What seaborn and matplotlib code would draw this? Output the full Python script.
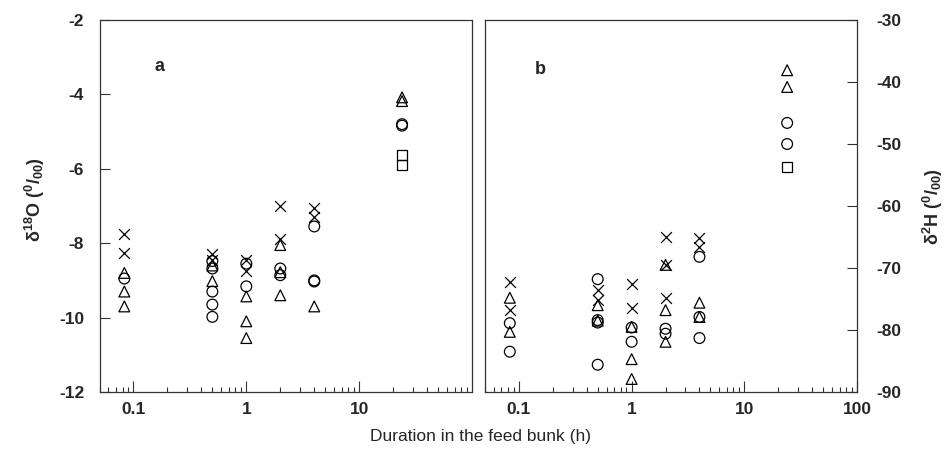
import matplotlib
matplotlib.use("Agg")
import matplotlib.pyplot as plt
import seaborn as sns
import pandas as pd
from matplotlib.ticker import LogLocator, NullFormatter, FixedLocator, FixedFormatter

sns.set_theme(style="white")
plt.rcParams['font.family'] = ['Liberation Sans', 'DejaVu Sans']
plt.rcParams['mathtext.fontset'] = 'custom'
plt.rcParams['mathtext.rm'] = 'Liberation Sans'
plt.rcParams['mathtext.it'] = 'Liberation Sans:italic'
plt.rcParams['mathtext.bf'] = 'Liberation Sans:bold'

# ---- Panel a: delta18O (per mil) ----
a_cross_x = [0.083, 0.083, 0.5, 0.5, 1, 1, 2, 2, 4, 4]
a_cross_y = [-7.76, -8.27, -8.3, -8.45, -8.45, -8.75, -7.0, -7.9, -7.05, -7.3]
a_tri_x = [0.083, 0.083, 0.083, 0.5, 0.5, 1, 1, 1, 2, 2, 2, 4, 24, 24]
a_tri_y = [-8.8, -9.3, -9.7, -8.6, -9.02, -9.43, -10.1, -10.55, -8.05, -8.78, -9.4, -9.7, -4.08, -4.18]
a_circ_x = [0.083, 0.5, 0.5, 0.5, 0.5, 0.5, 1, 1, 2, 2, 4, 4, 4, 24, 24]
a_circ_y = [-8.95, -8.48, -8.68, -9.3, -9.65, -9.98, -8.55, -9.16, -8.68, -8.86, -7.55, -9.0, -9.03, -4.8, -4.84]
a_sq_x = [24, 24]
a_sq_y = [-5.62, -5.9]

# ---- Panel b: delta2H (per mil) ----
b_cross_x = [0.083, 0.083, 0.5, 0.5, 1, 1, 2, 2, 2, 4, 4]
b_cross_y = [-72.3, -76.8, -73.5, -75.2, -72.6, -76.5, -65.0, -69.5, -74.8, -65.2, -66.6]
b_tri_x = [0.083, 0.083, 0.5, 0.5, 1, 1, 1, 2, 2, 2, 4, 4, 24, 24]
b_tri_y = [-74.8, -80.3, -76.0, -78.5, -79.5, -84.7, -87.9, -69.5, -76.8, -81.9, -75.6, -77.9, -38.1, -40.8]
b_circ_x = [0.083, 0.083, 0.5, 0.5, 0.5, 0.5, 1, 1, 2, 2, 4, 4, 4, 24, 24]
b_circ_y = [-78.9, -83.5, -71.8, -78.4, -78.8, -85.6, -79.6, -81.9, -79.8, -80.6, -68.2, -77.9, -81.3, -46.6, -50.0]
b_sq_x = [24]
b_sq_y = [-53.7]

xticks_a = [0.1, 1, 10]
xticks_b = [0.1, 1, 10, 100]
yticks_a = [-2, -4, -6, -8, -10, -12]
yticks_b = [-30, -40, -50, -60, -70, -80, -90]

fig = plt.figure(figsize=(9.5, 4.58), dpi=100)
fig.patch.set_facecolor('white')
W, H = 950, 458
ax_a = fig.add_axes([99.5 / W, 1 - 392 / H, (472 - 99.5) / W, (392 - 20) / H])
ax_b = fig.add_axes([485 / W, 1 - 392 / H, (857 - 485) / W, (392 - 20) / H])

S = 60
LW = 0.9

def draw(ax, cx, cy, tx, ty, ox, oy, sx, sy):
    sns.scatterplot(x=cx, y=cy, ax=ax, marker='x', color='black', s=S, linewidth=LW, legend=False)
    sns.scatterplot(x=tx, y=ty, ax=ax, marker='^', facecolor='none', edgecolor='black', s=S, linewidth=LW, legend=False)
    sns.scatterplot(x=ox, y=oy, ax=ax, marker='o', facecolor='none', edgecolor='black', s=S, linewidth=LW, legend=False)
    sns.scatterplot(x=sx, y=sy, ax=ax, marker='s', facecolor='none', edgecolor='black', s=S * 0.9, linewidth=LW, legend=False)

draw(ax_a, a_cross_x, a_cross_y, a_tri_x, a_tri_y, a_circ_x, a_circ_y, a_sq_x, a_sq_y)
draw(ax_b, b_cross_x, b_cross_y, b_tri_x, b_tri_y, b_circ_x, b_circ_y, b_sq_x, b_sq_y)

for ax in (ax_a, ax_b):
    ax.set_xscale('log')
    ax.set_xlim(0.05, 100)
    ax.set_facecolor('white')
    for sp in ax.spines.values():
        sp.set_visible(True)
        sp.set_color('#333333')
        sp.set_linewidth(0.9)
    ax.xaxis.set_minor_locator(LogLocator(base=10, subs=range(2, 10)))
    ax.xaxis.set_minor_formatter(NullFormatter())
    ax.tick_params(axis='x', which='major', direction='in', length=8, width=0.8,
                   color='#333333', labelsize=12.5, pad=7, bottom=True, top=False)
    ax.tick_params(axis='x', which='minor', direction='in', length=3.5, width=0.8,
                   color='#333333', bottom=True, top=False)
    ax.set_xlabel('')
    ax.set_ylabel('')

ax_a.xaxis.set_major_locator(FixedLocator(xticks_a))
ax_a.xaxis.set_major_formatter(FixedFormatter([str(v) for v in xticks_a]))
ax_b.xaxis.set_major_locator(FixedLocator(xticks_b))
ax_b.xaxis.set_major_formatter(FixedFormatter([str(v) for v in xticks_b]))

ax_a.set_ylim(-12, -2)
ax_a.set_yticks(yticks_a)
ax_a.set_yticklabels([str(v) for v in yticks_a])
ax_a.tick_params(axis='y', direction='in', length=7, width=0.8, color='#333333',
                 labelsize=12.5, pad=11, left=True, right=False)

ax_b.set_ylim(-90, -30)
ax_b.set_yticks(yticks_b)
ax_b.set_yticklabels([str(v) for v in yticks_b])
ax_b.tick_params(axis='y', direction='in', length=7, width=0.8, color='#333333',
                 labelsize=12.5, pad=14, left=False, right=True, labelleft=False, labelright=True)

for ax in (ax_a, ax_b):
    for lab in ax.get_xticklabels() + ax.get_yticklabels():
        lab.set_fontweight('bold')

ax_a.text(0.16, 0.876, 'a', transform=ax_a.transAxes, fontsize=13, fontweight='bold', ha='center', va='center')
ax_b.text(0.148, 0.866, 'b', transform=ax_b.transAxes, fontsize=13, fontweight='bold', ha='center', va='center')

fig.text(35 / W, 1 - 200 / H, r'$\mathbf{\delta^{18}O\ (^{0}/_{00})}$', rotation=90,
         ha='center', va='center', fontsize=13)
fig.text(933 / W, 1 - 207 / H, r'$\mathbf{\delta^{2}H\ (^{0}/_{00})}$', rotation=90,
         ha='center', va='center', fontsize=13)
fig.text(480 / W, 1 - 437 / H, 'Duration in the feed bunk (h)', ha='center', va='center', fontsize=12.5)

fig.savefig('out.png', dpi=100, facecolor='white')
